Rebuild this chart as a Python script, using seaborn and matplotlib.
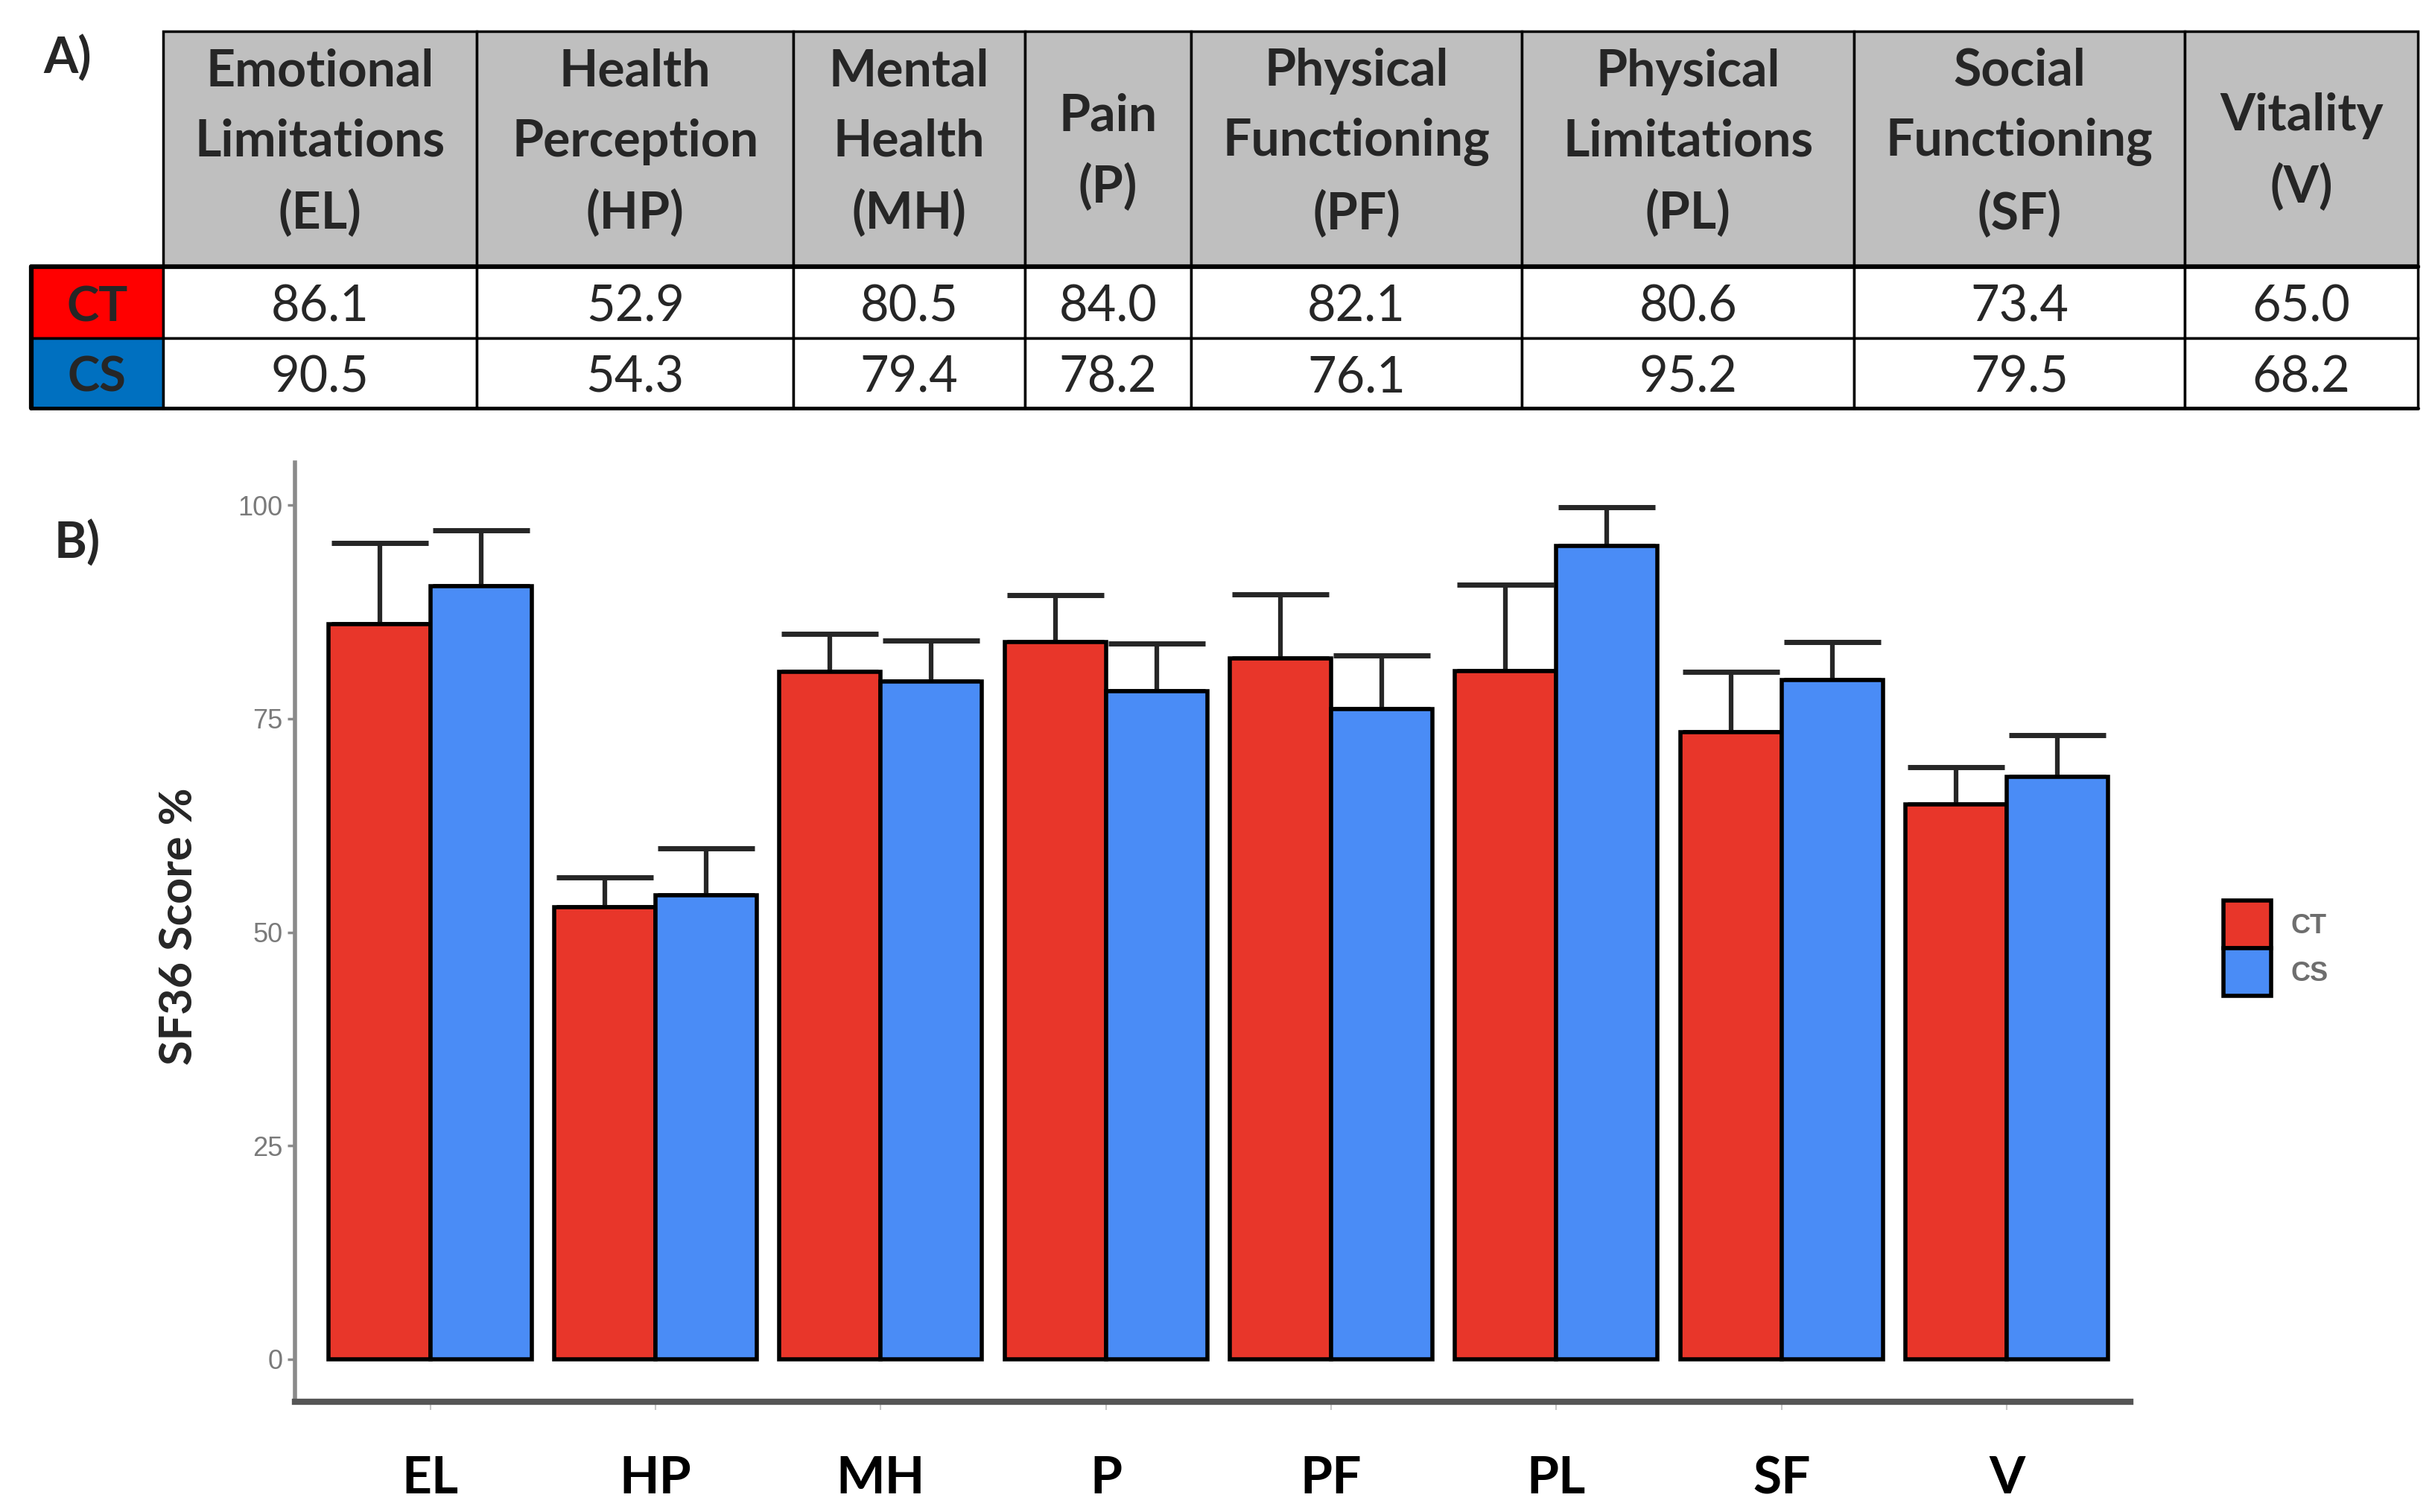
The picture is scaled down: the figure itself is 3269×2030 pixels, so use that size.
import numpy as np
import pandas as pd
import matplotlib
matplotlib.use("Agg")
import matplotlib.pyplot as plt
import seaborn as sns
from matplotlib.patches import Rectangle

# ---------------- data ----------------
domains = ["EL", "HP", "MH", "P", "PF", "PL", "SF", "V"]
domain_names = ["Emotional\nLimitations\n(EL)", "Health\nPerception\n(HP)",
                "Mental\nHealth\n(MH)", "Pain\n(P)", "Physical\nFunctioning\n(PF)",
                "Physical\nLimitations\n(PL)", "Social\nFunctioning\n(SF)", "Vitality\n(V)"]
groups = ["CT", "CS"]
ct_mean = [86.1, 52.9, 80.5, 84.0, 82.1, 80.6, 73.4, 65.0]
cs_mean = [90.5, 54.3, 79.4, 78.2, 76.1, 95.2, 79.5, 68.2]
ct_sd = [9.5, 3.5, 4.4, 5.5, 7.5, 10.1, 7.1, 4.3]
cs_sd = [6.6, 5.5, 4.8, 5.6, 6.3, 4.6, 4.5, 4.9]
yticks = [0, 25, 50, 75, 100]
y_label = "SF36 Score %"

bar_colors = {"CT": "#E8362A", "CS": "#4A8CF6"}
cell_colors = {"CT": "#FF0000", "CS": "#0070C0"}

# ---------------- figure ----------------
sns.set_style("white")
plt.rcParams["font.family"] = ["Lato", "DejaVu Sans"]

W, H, DPI = 3269, 2030, 100
fig = plt.figure(figsize=(W / DPI, H / DPI), dpi=DPI)
fig.patch.set_facecolor("white")

# layout units (reference at ~1568 x 974)
DW, DH = 1568, 974
ov = fig.add_axes([0, 0, 1, 1])
ov.set_xlim(0, DW)
ov.set_ylim(DH, 0)
ov.axis("off")

# ---- table (panel A) ----
col_edges = [105, 307, 511, 660, 767, 980, 1194, 1407, 1557]
row_edges = [20, 172, 218, 263]
lab_x0 = 20

for i, name in enumerate(domain_names):
    x0, x1 = col_edges[i], col_edges[i + 1]
    ov.add_patch(Rectangle((x0, row_edges[0]), x1 - x0, row_edges[1] - row_edges[0],
                           fc="#BFBFBF", ec="black", lw=2.5, zorder=1))
    dy = -4 if name.count("\n") == 2 else 2
    ov.text((x0 + x1) / 2, (row_edges[0] + row_edges[1]) / 2 + dy, name,
            ha="center", va="center", fontsize=49, fontweight="bold",
            linespacing=1.6, zorder=3)

rows = [("CT", ct_mean), ("CS", cs_mean)]
for r, (g, vals) in enumerate(rows):
    y0, y1 = row_edges[r + 1], row_edges[r + 2]
    ov.add_patch(Rectangle((lab_x0, y0), col_edges[0] - lab_x0, y1 - y0,
                           fc=cell_colors[g], ec="black", lw=2.5, zorder=1))
    ov.text((lab_x0 + col_edges[0]) / 2, (y0 + y1) / 2 + 3, g, ha="center", va="center",
            fontsize=47, fontweight="bold", zorder=3)
    for i, v in enumerate(vals):
        x0, x1 = col_edges[i], col_edges[i + 1]
        ov.add_patch(Rectangle((x0, y0), x1 - x0, y1 - y0, fc="white", ec="black",
                               lw=2.5, zorder=1))
        ov.text((x0 + x1) / 2, (y0 + y1) / 2 + 3, f"{v:.1f}", ha="center", va="center",
                fontsize=48, zorder=3)

ov.plot([lab_x0, col_edges[-1]], [row_edges[1], row_edges[1]], color="black", lw=4.5, zorder=2)
ov.plot([lab_x0, col_edges[-1]], [row_edges[3], row_edges[3]], color="black", lw=3.5, zorder=2)
ov.plot([lab_x0, lab_x0], [row_edges[1], row_edges[3]], color="black", lw=4.5, zorder=2)

ov.text(28, 38, "A)", ha="left", va="center", fontsize=48, fontweight="bold")
ov.text(35, 350, "B)", ha="left", va="center", fontsize=48, fontweight="bold")

# ---- bar chart (panel B) ----
ax = fig.add_axes([190 / DW, 1 - 903 / DH, (1372 - 190) / DW, (903 - 298) / DH])
ax.patch.set_alpha(0)

df = pd.DataFrame({
    "domain": domains * 2,
    "group": ["CT"] * len(domains) + ["CS"] * len(domains),
    "score": ct_mean + cs_mean,
    "sd": ct_sd + cs_sd,
})

sns.barplot(data=df, x="domain", y="score", hue="group", order=domains,
            hue_order=groups, palette=bar_colors, width=0.9, saturation=1,
            edgecolor="black", linewidth=4, errorbar=None, ax=ax)

for cont, g in zip(ax.containers, groups):
    sub = df[df["group"] == g].set_index("domain").loc[domains]
    xs = [b.get_x() + b.get_width() / 2 for b in cont]
    hs = [b.get_height() for b in cont]
    ax.errorbar(xs, hs, yerr=[np.zeros(len(xs)), sub["sd"].values], fmt="none",
                ecolor="#262626", elinewidth=4.5, capsize=47, capthick=5, zorder=0.5)

ax.set_ylim(-5, 105)
ax.set_xlim(-0.6, 7.55)
ax.set_yticks(yticks)
for s in ["top", "right"]:
    ax.spines[s].set_visible(False)
ax.spines["left"].set_color("#8a8a8a")
ax.spines["left"].set_linewidth(4)
ax.spines["bottom"].set_color("#555555")
ax.spines["bottom"].set_linewidth(6)

ax.tick_params(axis="y", left=True, length=7, width=2.5, color="#8a8a8a",
               labelcolor="#7a7a7a", labelsize=26, pad=5)
for t in ax.get_yticklabels():
    t.set_family(["Liberation Sans", "DejaVu Sans"])
ax.tick_params(axis="x", bottom=True, length=8, width=1.5, color="#c8c8c8",
               labelcolor="black", labelsize=50, pad=44)
for t in ax.get_xticklabels():
    t.set_fontweight("bold")

ax.set_xlabel("")
ax.set_ylabel(y_label, fontsize=44, fontweight="bold")
ax.yaxis.set_label_coords(-0.052, 0.506)

handles, labels = ax.get_legend_handles_labels()
if ax.get_legend() is not None:
    ax.get_legend().remove()
leg = ax.legend(handles, labels, loc="center left",
                bbox_to_anchor=(1432 / DW, 1 - 611 / DH), bbox_transform=fig.transFigure,
                frameon=False, fontsize=26, handlelength=1.75, handleheight=2.35,
                handletextpad=0.75, labelspacing=0.0, borderpad=0, borderaxespad=0,
                prop={"family": ["Liberation Sans", "DejaVu Sans"], "weight": "bold", "size": 26})
for t in leg.get_texts():
    t.set_color("#6e6e6e")

fig.savefig("out.png", dpi=DPI, facecolor="white")
